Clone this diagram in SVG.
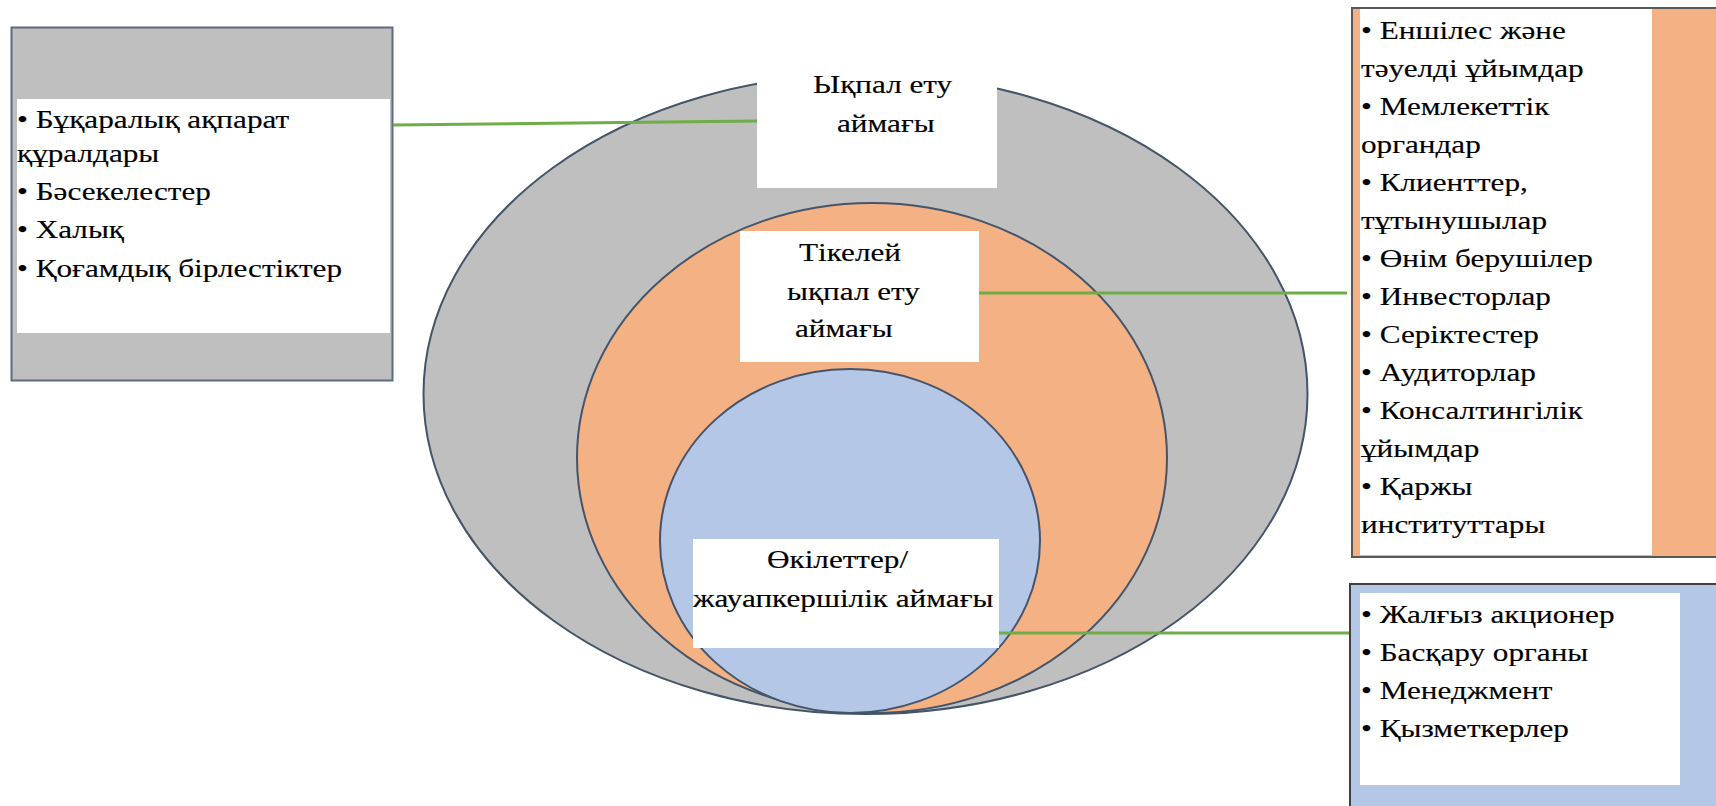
<svg xmlns="http://www.w3.org/2000/svg" width="1716" height="806" viewBox="0 0 1716 806">
<style>
.t{font-family:"Liberation Serif","Times New Roman",serif;font-size:26px;fill:#000;stroke:#000;stroke-width:0.15}
.ell{stroke:#44546A;stroke-width:2}
.wb{fill:#FFFFFF}
.conn{stroke:#70AD47;stroke-width:3;fill:none}
</style>
<rect width="1716" height="806" fill="#FFFFFF"/>
<g id="zone-outer">
<ellipse class="ell" cx="865.5" cy="394" rx="442" ry="320" fill="#BFBFBF"/>
</g>
<g id="zone-middle">
<ellipse class="ell" cx="872" cy="458" rx="295" ry="255" fill="#F4B183"/>
</g>
<g id="zone-inner">
<ellipse class="ell" cx="850" cy="541" rx="190" ry="172" fill="#B4C7E7"/>
</g>
<g id="label-outer">
<rect class="wb" x="757" y="65" width="240" height="123"/>
<text class="t" x="0" y="93" transform="matrix(1.2 0 0 1 813 0)">Ықпал ету</text>
<text class="t" x="0" y="132" transform="matrix(1.2 0 0 1 837 0)">аймағы</text>
</g>
<g id="label-middle">
<rect class="wb" x="740" y="231" width="239" height="131"/>
<text class="t" x="0" y="261" transform="matrix(1.2 0 0 1 799 0)">Тікелей</text>
<text class="t" x="0" y="300" transform="matrix(1.2 0 0 1 787 0)">ықпал ету</text>
<text class="t" x="0" y="337" transform="matrix(1.2 0 0 1 795 0)">аймағы</text>
</g>
<g id="label-inner">
<rect class="wb" x="693" y="539" width="306" height="109"/>
<text class="t" x="0" y="568" transform="matrix(1.2 0 0 1 767 0)">Өкілеттер/</text>
<text class="t" x="0" y="607" transform="matrix(1.2 0 0 1 693 0)">жауапкершілік аймағы</text>
</g>
<g id="box-left">
<rect x="11.5" y="27.5" width="381" height="353" fill="#BFBFBF" stroke="#5B6B80" stroke-width="2"/>
<rect class="wb" x="17" y="99" width="373" height="234"/>
<g transform="matrix(1.2 0 0 1 17 0)">
<text class="t" x="0" y="128">• Бұқаралық ақпарат</text>
<text class="t" x="0" y="162">құралдары</text>
<text class="t" x="0" y="200">• Бәсекелестер</text>
<text class="t" x="0" y="238">• Халық</text>
<text class="t" x="0" y="277">• Қоғамдық бірлестіктер</text>
</g>
</g>
<g id="box-right-top">
<rect x="1352" y="8" width="380" height="549" fill="#F4B183" stroke="#595959" stroke-width="2"/>
<rect class="wb" x="1360" y="9" width="292" height="546"/>
<g transform="matrix(1.2 0 0 1 1361 0)">
<text class="t" x="0" y="39">• Еншілес және</text>
<text class="t" x="0" y="77">тәуелді ұйымдар</text>
<text class="t" x="0" y="115">• Мемлекеттік</text>
<text class="t" x="0" y="153">органдар</text>
<text class="t" x="0" y="191">• Клиенттер,</text>
<text class="t" x="0" y="229">тұтынушылар</text>
<text class="t" x="0" y="267">• Өнім берушілер</text>
<text class="t" x="0" y="305">• Инвесторлар</text>
<text class="t" x="0" y="343">• Серіктестер</text>
<text class="t" x="0" y="381">• Аудиторлар</text>
<text class="t" x="0" y="419">• Консалтингілік</text>
<text class="t" x="0" y="457">ұйымдар</text>
<text class="t" x="0" y="495">• Қаржы</text>
<text class="t" x="0" y="533">институттары</text>
</g>
</g>
<g id="box-right-bottom">
<rect x="1350" y="584" width="380" height="240" fill="#B4C7E7" stroke="#404040" stroke-width="2"/>
<rect class="wb" x="1360" y="593" width="320" height="192"/>
<g transform="matrix(1.2 0 0 1 1361 0)">
<text class="t" x="0" y="623">• Жалғыз акционер</text>
<text class="t" x="0" y="661">• Басқару органы</text>
<text class="t" x="0" y="699">• Менеджмент</text>
<text class="t" x="0" y="737">• Қызметкерлер</text>
</g>
</g>
<g id="connectors">
<line class="conn" x1="393" y1="125" x2="757" y2="121"/>
<line class="conn" x1="979" y1="293" x2="1347" y2="293"/>
<line class="conn" x1="999" y1="633" x2="1349" y2="633"/>
</g>
</svg>
